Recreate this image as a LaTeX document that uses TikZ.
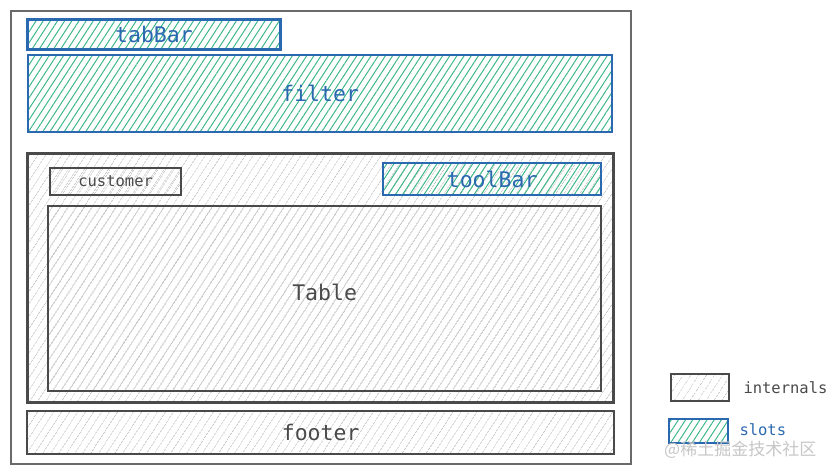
\documentclass[tikz,border=0pt]{standalone}
\usepackage{fontspec}
\setmonofont{DejaVu Sans Mono}
\newfontfamily\cjk{Noto Sans CJK SC}
\usetikzlibrary{positioning, patterns.meta}
\definecolor{inkgray}{HTML}{4A4A4A}
\definecolor{framegray}{HTML}{6A6A6A}
\definecolor{hatchgray}{HTML}{C4C4C4}
\definecolor{slotblue}{HTML}{2A69B0}
\definecolor{slotgreen}{HTML}{3DB88A}

\begin{document}
\begin{tikzpicture}[x=1pt, y=-1pt, every node/.style={font=\ttfamily, inner sep=0pt},
    internal/.style={draw=inkgray, line width=2.3pt, text=inkgray, anchor=north west,
        pattern={Lines[angle=57,distance=6.5pt,line width=0.8pt]}, pattern color=hatchgray},
    slot/.style={draw=slotblue, line width=2.3pt, text=slotblue, anchor=north west,
        pattern={Lines[angle=57,distance=6pt,line width=1pt]}, pattern color=slotgreen},
    big/.style={font=\ttfamily\fontsize{21.5}{21.5}\selectfont},
    small/.style={font=\ttfamily\fontsize{15.5}{15.5}\selectfont}]
    \useasboundingbox (0,0) rectangle (836,473);
    % page frame
    \node[draw=framegray, line width=2pt, minimum width=620, minimum height=453, anchor=north west] (page) at (10,10) {};
    % slots on top
    \node[slot, big, minimum width=253, minimum height=30] (tabbar) at (27,19) {tabBar};
    \node[slot, big, minimum width=584, minimum height=77] (filter) at (27,54) {filter};
    % content panel
    \node[internal, minimum width=586, minimum height=249] (panel) at (27,153) {};
    \node[internal, small, minimum width=131, minimum height=27] (customer) at (49,167) {customer};
    \node[slot, big, minimum width=218, minimum height=32] (toolbar) at (382,162) {toolBar};
    \node[internal, big, minimum width=553, minimum height=185, text depth=12pt] (table) at (47,205) {Table};
    % footer
    \node[internal, big, minimum width=587, minimum height=43] (footer) at (26,410) {footer};
    % legend
    \node[internal, minimum width=58, minimum height=27] (keyint) at (670,373) {};
    \node[small, text=inkgray, right=13pt of keyint] (keyinttxt) {internals};
    \node[slot, minimum width=59, minimum height=24] (keyslot) at (668,418) {};
    \node[small, text=slotblue, right=10pt of keyslot, yshift=1pt] (keyslottxt) {slots};
    \node[text=gray!45, font=\cjk\fontsize{17}{17}\selectfont, anchor=west] (mark) at (664,450) {@稀土掘金技术社区};
\end{tikzpicture}
\end{document}
